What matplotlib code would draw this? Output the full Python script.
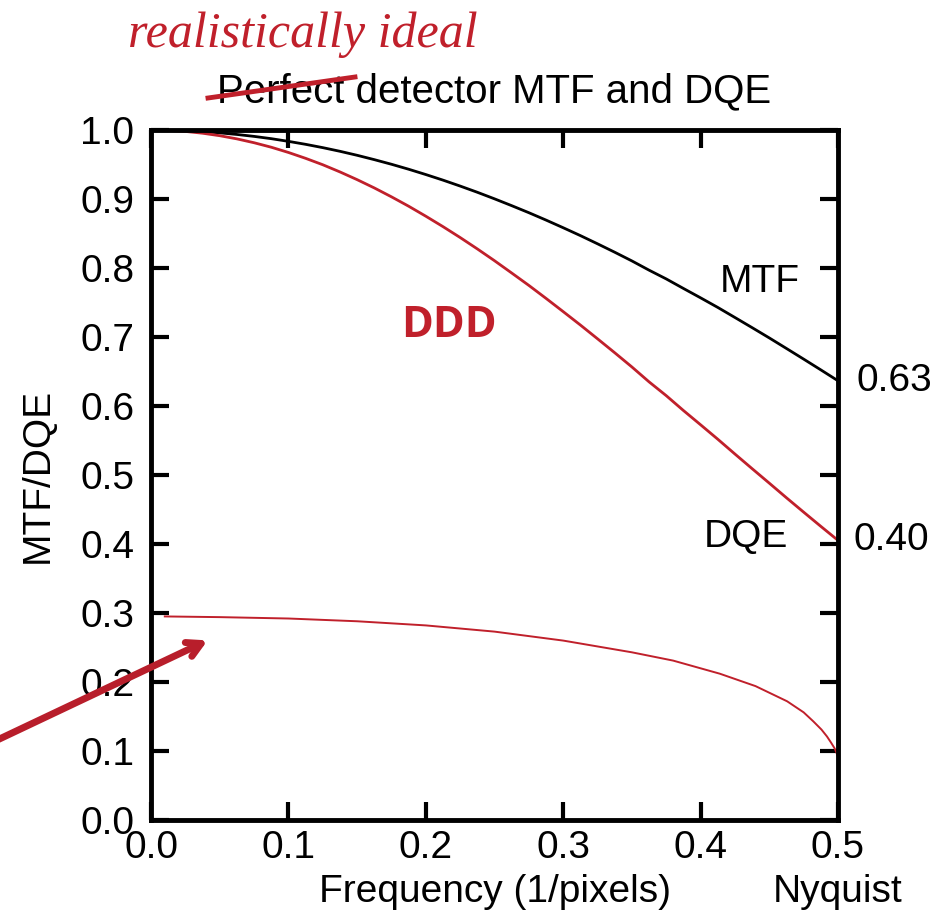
import matplotlib
matplotlib.use("Agg")
import matplotlib.pyplot as plt
from matplotlib.lines import Line2D

plt.rcParams['font.family'] = ['Liberation Sans', 'DejaVu Sans']

# values
freq = [0.0, 0.0125, 0.025, 0.0375, 0.05, 0.0625, 0.075, 0.0875, 0.1, 0.1125,
        0.125, 0.1375, 0.15, 0.1625, 0.175, 0.1875, 0.2, 0.2125, 0.225, 0.2375,
        0.25, 0.2625, 0.275, 0.2875, 0.3, 0.3125, 0.325, 0.3375, 0.35, 0.3625,
        0.375, 0.3875, 0.4, 0.4125, 0.425, 0.4375, 0.45, 0.4625, 0.475, 0.4875,
        0.5]
mtf = [1.0, 0.9997, 0.9990, 0.9977, 0.9959, 0.9936, 0.9908, 0.9875, 0.9836,
       0.9793, 0.9745, 0.9692, 0.9634, 0.9571, 0.9504, 0.9432, 0.9355, 0.9274,
       0.9188, 0.9098, 0.9003, 0.8904, 0.8802, 0.8695, 0.8584, 0.8470, 0.8351,
       0.8229, 0.8103, 0.7969, 0.7842, 0.7704, 0.7568, 0.7429, 0.7283, 0.7136,
       0.6987, 0.6834, 0.6680, 0.6524, 0.6366]
dqe = [1.0, 0.9994, 0.9980, 0.9954, 0.9918, 0.9872, 0.9816, 0.9751, 0.9675,
       0.9590, 0.9497, 0.9393, 0.9281, 0.9161, 0.9032, 0.8896, 0.8751, 0.8600,
       0.8442, 0.8277, 0.8106, 0.7928, 0.7748, 0.7560, 0.7368, 0.7174, 0.6974,
       0.6772, 0.6566, 0.6350, 0.6150, 0.5935, 0.5728, 0.5519, 0.5304, 0.5092,
       0.4882, 0.4670, 0.4462, 0.4256, 0.4053]

ddd_freq = [0.01, 0.05, 0.1, 0.15, 0.2, 0.25, 0.3, 0.35, 0.38, 0.414, 0.44,
            0.463, 0.475, 0.482, 0.488, 0.492, 0.495, 0.4975, 0.499, 0.5]
ddd_dqe = [0.295, 0.294, 0.292, 0.288, 0.282, 0.273, 0.260, 0.243, 0.231, 0.212,
           0.194, 0.172, 0.156, 0.143, 0.131, 0.121, 0.112, 0.104, 0.097, 0.091]

xticks = [0.0, 0.1, 0.2, 0.3, 0.4, 0.5]
yticks = [0.0, 0.1, 0.2, 0.3, 0.4, 0.5, 0.6, 0.7, 0.8, 0.9, 1.0]
end_labels = ["0.63", "0.40"]

RED = '#c0202b'
FS = 28

fig = plt.figure(figsize=(9.53, 9.21), dpi=100)
ax = fig.add_axes([0.1585, 0.1097, 0.7208, 0.7491])

ax.plot(freq, mtf, color='black', lw=2.0, solid_capstyle='butt')
ax.plot(freq, dqe, color=RED, lw=2.0, solid_capstyle='butt')
ax.plot(ddd_freq, ddd_dqe, color=RED, lw=1.4)

ax.set_xlim(0, 0.5)
ax.set_ylim(0, 1.0)
ax.set_xticks(xticks)
ax.set_yticks(yticks)
ax.set_xticklabels([f"{t:.1f}" for t in xticks])
ax.set_yticklabels([f"{t:.1f}" for t in yticks])
ax.tick_params(direction='in', length=13, width=3, labelsize=FS,
               top=True, right=True)
ax.tick_params(axis='x', pad=7)
ax.tick_params(axis='y', pad=12)
for s in ax.spines.values():
    s.set_linewidth(3.5)

ax.set_xlabel("Frequency (1/pixels)", fontsize=FS, labelpad=6)
ax.set_ylabel("MTF/DQE", fontsize=FS, labelpad=18)
ax.set_title("Perfect detector MTF and DQE", fontsize=29, pad=20)

ax.annotate(end_labels[0], xy=(0.5, mtf[-1]), xytext=(13, 0),
            textcoords='offset points', fontsize=FS, va='center', ha='left',
            annotation_clip=False)
ax.annotate(end_labels[1], xy=(0.5, dqe[-1]), xytext=(11, 0),
            textcoords='offset points', fontsize=FS, va='center', ha='left',
            annotation_clip=False)
ax.text(0.4723, 0.78, "MTF", fontsize=FS, ha='right', va='center')
ax.text(0.4636, 0.41, "DQE", fontsize=FS, ha='right', va='center')
ax.text(0.217, 0.717, "DDD", fontsize=31, color=RED, fontweight='bold',
        ha='center', va='center', family='Open Sans')
ax.text(0.5, -0.078, "Nyquist", fontsize=FS, ha='center', va='top',
        clip_on=False)

# arrow pointing at the DDD curve
ax.annotate("", xy=(0.043, 0.262), xytext=(-0.115, 0.113),
            arrowprops=dict(arrowstyle='->,head_length=1.0,head_width=0.55',
                            color='#b81e2b', lw=5), annotation_clip=False)

# handwritten note and strike-through on the title
fig.text(0.318, 0.962, "realistically ideal", fontsize=36, color=RED,
         family='Liberation Serif', style='italic', ha='center', va='center')
fig.add_artist(Line2D([208 / 953, 355 / 953], [1 - 98 / 921, 1 - 77 / 921],
                      color=RED, lw=3.5, transform=fig.transFigure))

fig.savefig("out.png", dpi=100)
